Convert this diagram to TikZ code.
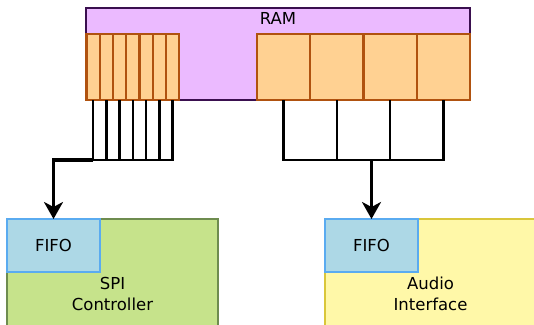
\documentclass[tikz,border=0pt]{standalone}
\usepackage{fontspec}
\setmainfont{DejaVu Sans}
\usetikzlibrary{arrows.meta}

\definecolor{ramfill}{HTML}{EBBAFF}
\definecolor{ramdraw}{HTML}{3A0F4F}
\definecolor{cellfill}{HTML}{FFD192}
\definecolor{celldraw}{HTML}{B0520F}
\definecolor{spifill}{HTML}{C6E38B}
\definecolor{spidraw}{HTML}{6E8C4F}
\definecolor{audfill}{HTML}{FFF8A8}
\definecolor{auddraw}{HTML}{D9C63A}
\definecolor{fifofill}{HTML}{ADD8E6}
\definecolor{fifodraw}{HTML}{5AABF0}

\begin{document}
\begin{tikzpicture}[x=1pt,y=-1pt,
  every node/.style={font=\fontsize{16.5}{21}\selectfont, inner sep=0pt, outer sep=0pt},
  blk/.style={draw, line width=2.4pt, rectangle, anchor=north west},
  ramblk/.style={blk, fill=ramfill, draw=ramdraw, minimum width=384pt, minimum height=92pt},
  smallcell/.style={blk, fill=cellfill, draw=celldraw, minimum width=13.25pt, minimum height=66pt},
  bigcell/.style={blk, fill=cellfill, draw=celldraw, minimum width=53.25pt, minimum height=66pt},
  spiblk/.style={blk, fill=spifill, draw=spidraw, minimum width=211pt, minimum height=130pt},
  audblk/.style={blk, fill=audfill, draw=auddraw, minimum width=211pt, minimum height=130pt},
  fifoblk/.style={blk, fill=fifofill, draw=fifodraw, minimum width=93pt, minimum height=53pt},
  lbl/.style={align=center},
  wire/.style={draw=black, line width=2.4pt, line join=miter},
  feed/.style={draw=black, line width=3.2pt, -{Stealth[length=17pt,width=19pt,inset=5pt]}}
]
\useasboundingbox (0,0) rectangle (534,324);
\clip (0,0) rectangle (534,324);

% memory block with its two groups of cells
\node[ramblk] (ram) at (86,8) {};
\node[anchor=base] (ramlbl) at (278,24) {RAM};
\foreach \i in {1,...,7}
  \node[smallcell] (c\i) at ({86.5+13.25*(\i-1)},34) {};
\foreach \i in {1,...,4}
  \node[bigcell] (d\i) at ({257+53.25*(\i-1)},34) {};

% peripherals with their FIFOs
\node[spiblk] (spi) at (7,219) {};
\node[fifoblk] (fifo1) at (7,219) {FIFO};
\node[lbl, anchor=base] (spilbl) at (112.5,310) {SPI\\Controller};

\node[audblk] (aud) at (325,219) {};
\node[fifoblk] (fifo2) at (325,219) {FIFO};
\node[lbl, anchor=base] (audlbl) at (430.5,310) {Audio\\Interface};

% bus level
\coordinate (bus) at (0,160);

% narrow cells gathered onto one bus
\foreach \i in {1,...,6}
  \draw[wire] (c\i.south) -- (c\i.south |- bus);
\draw[wire] (c1.south |- bus) -- (c7.south |- bus) -- (c7.south);
\draw[feed] (c1.south |- bus) -| (fifo1.north);

% wide cells gathered onto one bus
\draw[wire] (d1.south) -- (d1.south |- bus) -- (d4.south |- bus) -- (d4.south);
\draw[wire] (d2.south) -- (d2.south |- bus);
\draw[wire] (d3.south) -- (d3.south |- bus);
\draw[feed] (fifo2.north |- bus) -- (fifo2.north);
\end{tikzpicture}
\end{document}
